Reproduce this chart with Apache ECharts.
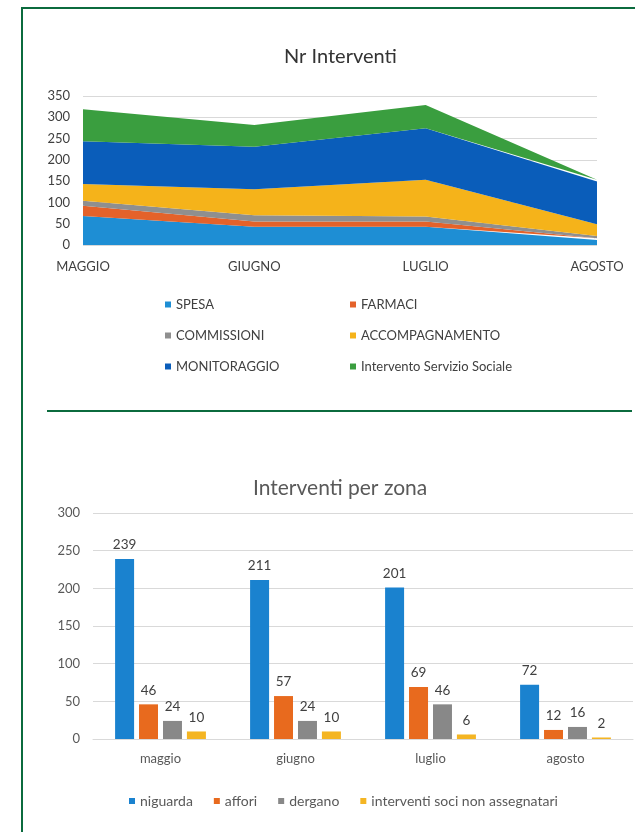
<!DOCTYPE html>
<html>
<head>
<meta charset="utf-8">
<script src="https://cdn.jsdelivr.net/npm/echarts@6/dist/echarts.min.js"></script>
<style>
  body { margin: 0; background: #ffffff; }
  #main { position: absolute; left: 0; top: 0; width: 635px; height: 832px; }
  #frame-left { position: absolute; left: 21px; top: 7px; width: 2px; height: 825px; background: #0b6b3e; }
  #frame-top { position: absolute; left: 21px; top: 7px; width: 614px; height: 2px; background: #0b6b3e; }
  #sep { position: absolute; left: 47px; top: 410px; width: 585px; height: 2px; background: #0b6b3e; }
</style>
</head>
<body>
<div id="main"></div>
<div id="frame-left"></div>
<div id="frame-top"></div>
<div id="sep"></div>
<script>
// grafico 1: Nr Interventi (aree impilate)
var mesi = ['MAGGIO', 'GIUGNO', 'LUGLIO', 'AGOSTO'];
var spesa = [68, 43, 43, 12];
var farmaci = [24, 12, 12, 4];
var commissioni = [12, 15, 12, 5];
var accompagnamento = [39, 61, 86, 28];
var monitoraggio = [101, 100, 121, 100];
var servizioSociale = [75, 51, 55, 4];

// grafico 2: Interventi per zona
var mesiZona = ['maggio', 'giugno', 'luglio', 'agosto'];
var niguarda = [239, 211, 201, 72];
var affori = [46, 57, 69, 12];
var dergano = [24, 24, 46, 16];
var nonAssegnati = [10, 10, 6, 2];

var font = 'Lato, "Open Sans", sans-serif';

var chart = echarts.init(document.getElementById('main'));

function area(name, data, color) {
  return {
    name: name,
    type: 'line',
    stack: 'tot',
    xAxisIndex: 0,
    yAxisIndex: 0,
    data: data,
    symbol: 'none',
    lineStyle: { width: 0 },
    areaStyle: { color: color, opacity: 1 },
    itemStyle: { color: color }
  };
}

function bar(name, data, color) {
  return {
    name: name,
    type: 'bar',
    xAxisIndex: 1,
    yAxisIndex: 1,
    data: data,
    barWidth: 19,
    barGap: '26%',
    itemStyle: { color: color },
    label: {
      show: true,
      position: 'top',
      distance: 7,
      fontSize: 13.5,
      fontFamily: font,
      color: '#404040'
    }
  };
}

var legendText = { fontSize: 13, fontFamily: font, color: '#404040' };

chart.setOption({
  animation: false,
  textStyle: { fontFamily: font },
  title: [
    {
      text: 'Nr Interventi',
      left: 284,
      top: 47,
      padding: 0,
      textStyle: { fontSize: 20, fontWeight: 'normal', color: '#333333', fontFamily: font }
    },
    {
      text: 'Interventi per zona',
      left: 253,
      top: 478,
      padding: 0,
      textStyle: { fontSize: 21, fontWeight: 'normal', color: '#595959', fontFamily: font }
    }
  ],
  legend: [
    {
      orient: 'vertical',
      left: 160,
      top: 293,
      itemGap: 18,
      itemWidth: 6,
      itemHeight: 6,
      icon: 'rect',
      textStyle: legendText,
      data: ['SPESA', 'COMMISSIONI', 'MONITORAGGIO']
    },
    {
      orient: 'vertical',
      left: 345,
      top: 293,
      itemGap: 18,
      itemWidth: 6,
      itemHeight: 6,
      icon: 'rect',
      textStyle: legendText,
      data: ['FARMACI', 'ACCOMPAGNAMENTO', 'Intervento Servizio Sociale']
    },
    {
      left: 124,
      top: 789,
      itemGap: 21,
      itemWidth: 6,
      itemHeight: 6,
      icon: 'rect',
      textStyle: { fontSize: 14, fontFamily: font, color: '#595959' },
      data: ['niguarda', 'affori', 'dergano', 'interventi soci non assegnatari']
    }
  ],
  grid: [
    { left: 83, width: 514, top: 96, height: 149, outerBoundsMode: 'none' },
    { left: 93, width: 540, top: 513, height: 226, outerBoundsMode: 'none' }
  ],
  xAxis: [
    {
      type: 'category',
      gridIndex: 0,
      data: mesi,
      boundaryGap: false,
      axisLine: { show: false },
      axisTick: { show: false },
      axisLabel: { margin: 15, fontSize: 13, color: '#404040', fontFamily: font }
    },
    {
      type: 'category',
      gridIndex: 1,
      data: mesiZona,
      axisLine: { lineStyle: { color: '#d9d9d9' } },
      axisTick: { show: false },
      axisLabel: { margin: 13, fontSize: 13, color: '#595959', fontFamily: font }
    }
  ],
  yAxis: [
    {
      type: 'value',
      gridIndex: 0,
      min: 0,
      max: 350,
      interval: 50,
      axisLine: { show: false },
      axisTick: { show: false },
      axisLabel: { margin: 13, fontSize: 13, color: '#404040', fontFamily: font },
      splitLine: { lineStyle: { color: '#d9d9d9' } }
    },
    {
      type: 'value',
      gridIndex: 1,
      min: 0,
      max: 300,
      interval: 50,
      axisLine: { show: false },
      axisTick: { show: false },
      axisLabel: { margin: 13, fontSize: 13, color: '#595959', fontFamily: font },
      splitLine: { lineStyle: { color: '#d9d9d9' } }
    }
  ],
  series: [
    area('SPESA', spesa, '#1e8ed4'),
    area('FARMACI', farmaci, '#e4622a'),
    area('COMMISSIONI', commissioni, '#8f8f8f'),
    area('ACCOMPAGNAMENTO', accompagnamento, '#f5b31a'),
    area('MONITORAGGIO', monitoraggio, '#0a5dba'),
    area('Intervento Servizio Sociale', servizioSociale, '#3a9e3f'),
    bar('niguarda', niguarda, '#1a82cf'),
    bar('affori', affori, '#e86a1e'),
    bar('dergano', dergano, '#888888'),
    bar('interventi soci non assegnatari', nonAssegnati, '#f4b523')
  ]
});
</script>
</body>
</html>
